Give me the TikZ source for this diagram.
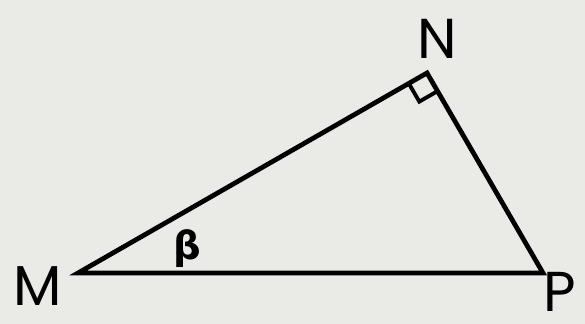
\documentclass[tikz,border=0pt]{standalone}
\usepackage{fontspec}
\setmainfont{Poppins}
\newfontfamily\greekfont{DejaVu Sans}
\usetikzlibrary{calc}
\definecolor{paper}{RGB}{234,234,231}
\tikzset{vlabel/.style={inner sep=0pt,font=\fontsize{32}{32}\selectfont}}
\begin{document}
\begin{tikzpicture}[line join=miter]
\fill[paper] (0,0) rectangle (11.7,6.48);
\useasboundingbox (0,0) rectangle (11.7,6.48);

\coordinate (M) at (1.56,1.02);
\coordinate (N) at (8.54,5.02);
\coordinate (P) at (10.86,1.02);

\draw[black,line width=2.7pt] (M) -- (N) -- (P) -- cycle;

\coordinate (a) at ($(N)!0.42cm!(M)$);
\coordinate (b) at ($(N)!0.42cm!(P)$);
\draw[black,line width=2.2pt] (a) -- ($(a)+(b)-(N)$) -- (b);

\node[vlabel] (m) at (0.76,0.76) {M};
\node[vlabel] (n) at (8.74,5.70) {N};
\node[vlabel] (p) at (11.20,0.64) {P};

\node[inner sep=0pt,font=\greekfont\bfseries\fontsize{22}{22}\selectfont] (beta) at (3.74,1.50) {β};
\end{tikzpicture}
\end{document}
